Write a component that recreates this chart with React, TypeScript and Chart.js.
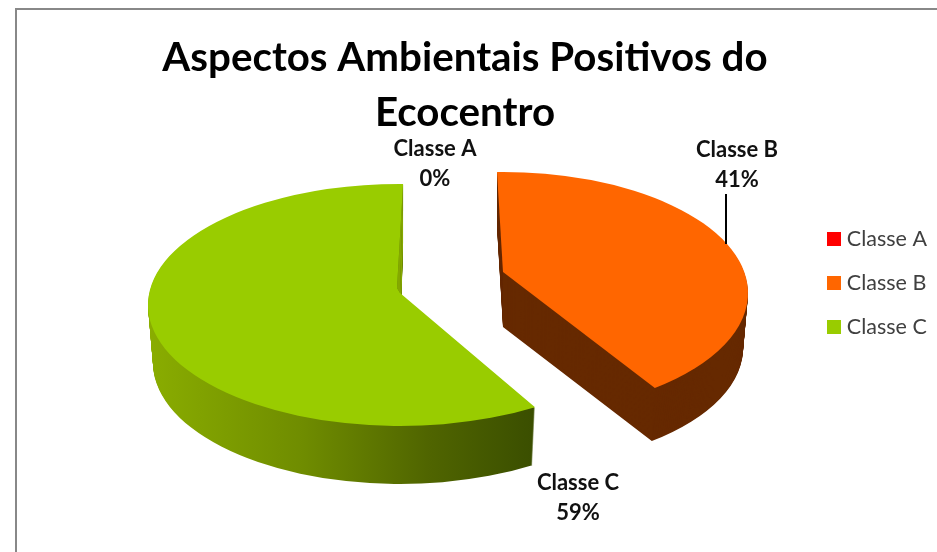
import React, { useEffect, useRef } from "react";
import { Chart, registerables } from "chart.js";

Chart.register(...registerables);

const categories = ["Classe A", "Classe B", "Classe C"];
const shares = [0, 41, 59];
const titleLines = ["Aspectos Ambientais Positivos do", "Ecocentro"];
const sliceColors = ["#FF0000", "#FF6600", "#99CC00"];

const FONT = "Lato, 'Noto Sans', sans-serif";
const slicePose = [
  { cx: 450, cy: 290, apexY: 280, rx: 245, ry: 120, a0: 0, a1: 0, depth: 0, kx: 1, ky: 1 },
  { cx: 503, cy: 293, apexY: 272, rx: 245, ry: 121, a0: -1.4, a1: -5.9, depth: 55, kx: 0.98, ky: 0.98 },
  { cx: 400, cy: 305, apexY: 293, rx: 252, ry: 121, a0: 0, a1: 0.7, depth: 58, kx: 0.98, ky: 1 },
];
const labelPose = [
  { x: 435, y: 149 },
  { x: 737, y: 150 },
  { x: 578, y: 483 },
];

const swatch = (color: string) => {
  const c = document.createElement("canvas");
  c.width = 14;
  c.height = 14;
  const g = c.getContext("2d") as CanvasRenderingContext2D;
  g.fillStyle = color;
  g.fillRect(0, 0, 14, 14);
  return c;
};

const pieDepthPlugin = {
  id: "pieDepth",
  beforeDraw(chart: any) {
    const { ctx } = chart;
    ctx.save();
    ctx.fillStyle = "#ffffff";
    ctx.fillRect(0, 0, chart.width, chart.height);
    ctx.strokeStyle = "#888888";
    ctx.lineWidth = 2;
    ctx.strokeRect(16, 9, chart.width + 20, chart.height + 20);
    ctx.restore();
  },
  beforeDatasetsDraw(chart: any) {
    const { ctx } = chart;
    const meta = chart.getDatasetMeta(0);
    const sector = (p: any, start: number, end: number, d: number, t: number) => {
      ctx.beginPath();
      ctx.moveTo(p.cx, p.apexY + d);
      ctx.ellipse(
        p.cx,
        p.cy + d,
        p.rx * (1 - (1 - p.kx) * t),
        p.ry * (1 - (1 - p.ky) * t),
        0,
        start,
        end,
      );
      ctx.closePath();
    };
    const wall = (i: number) => {
      if (i === 2) {
        const g = ctx.createLinearGradient(148, 0, 536, 0);
        g.addColorStop(0, "#8AAD00");
        g.addColorStop(0.4, "#6F8C00");
        g.addColorStop(0.72, "#506500");
        g.addColorStop(1, "#3A4E00");
        return g;
      }
      return "#662900";
    };
    ctx.save();
    meta.data.forEach((el: any, i: number) => {
      if (!shares[i]) return;
      const { startAngle, endAngle } = el.getProps(["startAngle", "endAngle"], true);
      const p = slicePose[i];
      const start = startAngle + (p.a0 * Math.PI) / 180;
      const end = endAngle + (p.a1 * Math.PI) / 180;
      ctx.fillStyle = wall(i);
      for (let d = p.depth; d > 0; d--) {
        sector(p, start, end, d, d / p.depth);
        ctx.fill();
      }
      if (i === 2) {
        const x = p.cx + p.rx * Math.cos(end);
        const y = p.cy + p.ry * Math.sin(end);
        ctx.fillStyle = "#85A800";
        ctx.beginPath();
        ctx.moveTo(x, y);
        ctx.lineTo(p.cx, p.apexY);
        ctx.lineTo(p.cx - 3, p.apexY - 5);
        ctx.closePath();
        ctx.fill();
        ctx.beginPath();
        ctx.moveTo(x, y);
        ctx.lineTo(p.cx, p.apexY);
        ctx.lineTo(p.cx, p.apexY + p.depth);
        ctx.lineTo(x, y + p.depth);
        ctx.closePath();
        ctx.fill();
      }
      ctx.fillStyle = sliceColors[i];
      ctx.beginPath();
      ctx.moveTo(p.cx, p.apexY);
      ctx.ellipse(p.cx, p.cy, p.rx, p.ry, 0, start, end);
      if (i === 2) ctx.lineTo(p.cx - 3, p.apexY - 5);
      ctx.closePath();
      ctx.fill();
    });
    ctx.restore();
    return false;
  },
  afterDraw(chart: any) {
    const { ctx } = chart;
    ctx.save();
    ctx.strokeStyle = "#000000";
    ctx.lineWidth = 2;
    ctx.beginPath();
    ctx.moveTo(726, 194);
    ctx.lineTo(726, 244);
    ctx.stroke();
    ctx.fillStyle = "#111111";
    ctx.font = `bold 22px ${FONT}`;
    ctx.textAlign = "center";
    ctx.textBaseline = "middle";
    categories.forEach((c, i) => {
      const l = labelPose[i];
      ctx.fillText(c, l.x, l.y);
      ctx.fillText(`${shares[i]}%`, l.x, l.y + 30);
    });
    ctx.restore();
  },
};

export default function App() {
  const ref = useRef<HTMLCanvasElement>(null);
  useEffect(() => {
    document.body.style.margin = "0";
    const chart = new Chart(ref.current as HTMLCanvasElement, {
      type: "pie",
      data: {
        labels: categories,
        datasets: [{ data: shares, backgroundColor: sliceColors, borderWidth: 0 }],
      },
      options: {
        responsive: false,
        animation: false,
        events: [],
        layout: { padding: { left: -7, right: 0, top: 14, bottom: 0 } },
        plugins: {
          tooltip: { enabled: false },
          title: {
            display: true,
            text: titleLines,
            color: "#000000",
            font: { family: FONT, size: 40.3, weight: "bold", lineHeight: 1.37 },
            padding: { top: 16, bottom: 10 },
          },
          legend: {
            position: "right",
            labels: {
              boxWidth: 14,
              boxHeight: 14,
              usePointStyle: true,
              pointStyleWidth: 4.5,
              color: "#404040",
              font: { family: FONT, size: 21.5 },
              padding: 22.5,
              generateLabels: () =>
                categories.map((text, i) => ({
                  text,
                  fillStyle: sliceColors[i],
                  strokeStyle: sliceColors[i],
                  lineWidth: 0,
                  pointStyle: swatch(sliceColors[i]),
                  fontColor: "#404040",
                  hidden: false,
                  index: i,
                })),
            },
          },
        },
      },
      plugins: [pieDepthPlugin],
    } as any);
    return () => chart.destroy();
  }, []);
  return (
    <canvas
      ref={ref}
      width={937}
      height={552}
      style={{ display: "block", width: 937, height: 552 }}
    />
  );
}
